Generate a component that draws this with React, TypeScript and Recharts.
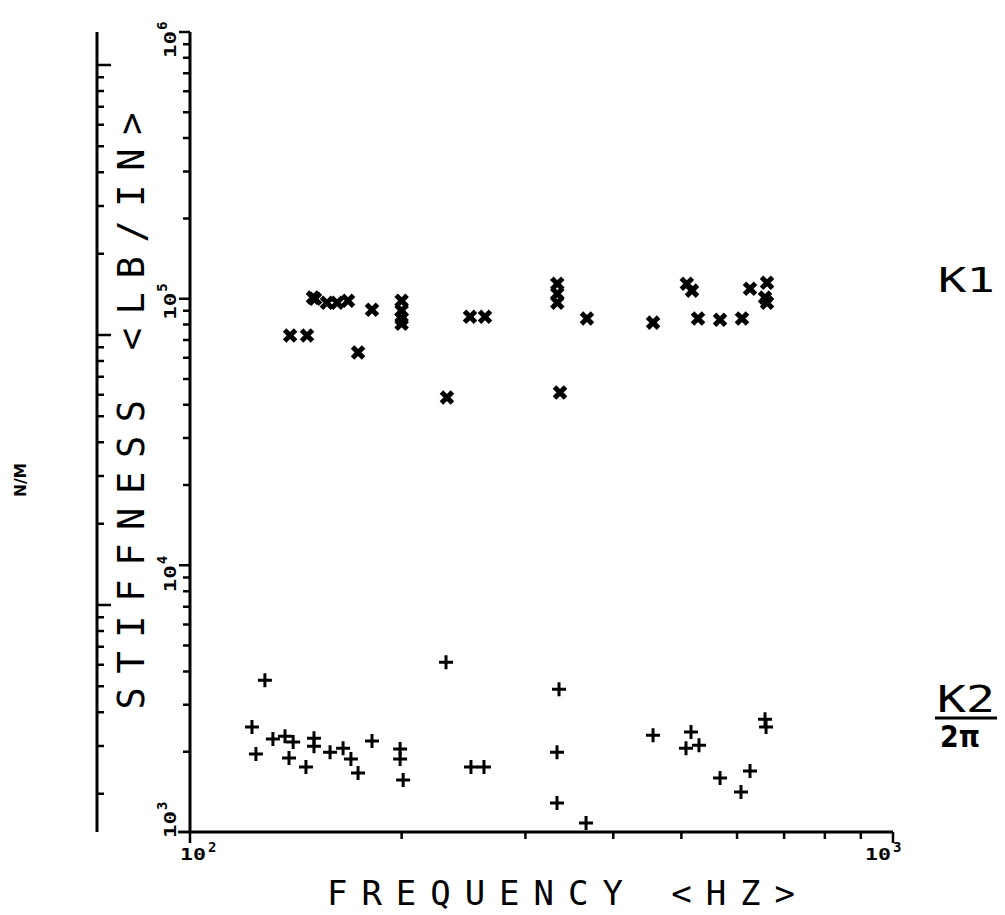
import { ScatterChart, Scatter, XAxis, YAxis, Label } from "recharts";

// frequency (Hz) and stiffness (lb/in)
const k1Freq = [138.8, 146.7, 149.6, 150.6, 156.6, 161.9, 167.8, 173.4, 181.5, 200, 200, 200, 200, 232, 250.2, 262.8, 333, 333, 333, 336, 367, 455.7, 509, 517.7, 528, 567.5, 609.8, 626, 662, 657.6, 662];
const k1Stiff = [72700, 72700, 100900, 100000, 96600, 96600, 98300, 62800, 90900, 98300, 90200, 84200, 80600, 42600, 85600, 85600, 113800, 104400, 96600, 44500, 84200, 81300, 113800, 107200, 84200, 83400, 84200, 109000, 114800, 100900, 96600];

const k2Freq = [122.5, 124.1, 127.8, 131.2, 136.5, 138.3, 140.2, 146.2, 150.1, 150.1, 158.2, 165.1, 169.4, 173.4, 181.5, 199, 199, 201, 231.3, 251, 261.9, 334.9, 332.7, 332.7, 365.9, 455.7, 516, 507.6, 529.7, 567.5, 626, 607.8, 657.6, 659.8];
const k2Stiff = [2474, 1959, 3710, 2230, 2288, 1893, 2173, 1752, 2249, 2099, 1993, 2063, 1877, 1663, 2192, 2046, 1877, 1566, 4331, 1752, 1752, 3433, 1993, 1284, 1081, 2308, 2369, 2063, 2117, 1593, 1692, 1412, 2650, 2474];

const freqTicks = [100, 200, 300, 400, 500, 600, 700, 800, 900, 1000];
const lbTicks = [
  1000, 2000, 3000, 4000, 5000, 6000, 7000, 8000, 9000,
  10000, 20000, 30000, 40000, 50000, 60000, 70000, 80000, 90000,
  100000, 200000, 300000, 400000, 500000, 600000, 700000, 800000, 900000,
  1000000,
];
const nmTicks = [
  200000, 300000, 400000, 500000, 600000, 700000, 800000, 900000,
  1000000, 2000000, 3000000, 4000000, 5000000, 6000000, 7000000, 8000000, 9000000,
  10000000, 20000000, 30000000, 40000000, 50000000, 60000000, 70000000, 80000000, 90000000,
  100000000,
];

const hzDomain = [100, 1000];
const lbDomain = [1000, 1000000];
const nmDomain = [144200, 132400000];

const hzExp: Record<number, string> = { 100: "2", 1000: "3" };
const lbExp: Record<number, string> = { 1000: "3", 10000: "4", 100000: "5", 1000000: "6" };
const nmExp: Record<number, string> = { 1000000: "6", 10000000: "7", 100000000: "8" };

const k1Data = k1Freq.map((f, i) => ({ f, k: k1Stiff[i] }));
const k2Data = k2Freq.map((f, i) => ({ f, k: k2Stiff[i] }));

const MONO = "'DejaVu Sans Mono', monospace";
const INK = "#000";

// fraction along a log axis
const logFrac = (v: number, d: number[]) =>
  (Math.log10(v) - Math.log10(d[0])) / (Math.log10(d[1]) - Math.log10(d[0]));

const FreqTick = (props: any) => {
  const { x, y, payload } = props;
  const exp = hzExp[payload.value];
  if (!exp) return null;
  const start = payload.value === 100 ? x - 10 : x - 28;
  return (
    <g fontFamily={MONO} fontWeight="bold" fill={INK}>
      <text x={start} y={y + 28} fontSize={15} textLength={26} lengthAdjust="spacingAndGlyphs">10</text>
      <text x={start + 28} y={y + 20} fontSize={14}>{exp}</text>
    </g>
  );
};

const lbShift: Record<string, number> = { "3": -7, "4": 14, "5": 8, "6": 13 };

const LbTick = (props: any) => {
  const { x, y, payload } = props;
  const exp = lbExp[payload.value];
  if (!exp) return null;
  return (
    <g transform={`translate(${x - 14},${y + lbShift[exp] + 13}) rotate(-90)`} fontFamily={MONO} fontWeight="bold" fill={INK}>
      <text x={0} y={0} fontSize={15} textLength={27} lengthAdjust="spacingAndGlyphs">10</text>
      <text x={28} y={-9} fontSize={14}>{exp}</text>
    </g>
  );
};

const NmTick = (props: any) => {
  const { x, y, payload } = props;
  const exp = nmExp[payload.value];
  if (!exp) return null;
  return (
    <g transform={`translate(${x - 14},${y + 10}) rotate(-90)`} fontFamily={MONO} fontWeight="bold" fill={INK}>
      <text x={0} y={0} fontSize={13} textLength={20} lengthAdjust="spacingAndGlyphs">10</text>
      <text x={21} y={-8} fontSize={14}>{exp}</text>
    </g>
  );
};

const CrossMark = (props: any) => {
  const { cx, cy } = props;
  const s = 5.5;
  return (
    <path
      d={`M${cx - s},${cy - s}L${cx + s},${cy + s}M${cx - s},${cy + s}L${cx + s},${cy - s}`}
      stroke={INK}
      strokeWidth={5}
      fill="none"
    />
  );
};

const PlusMark = (props: any) => {
  const { cx, cy } = props;
  const s = 7;
  return (
    <path d={`M${cx - s},${cy}L${cx + s},${cy}M${cx},${cy - s}L${cx},${cy + s}`} stroke={INK} strokeWidth={3} fill="none" />
  );
};

// x axis: tick marks + title, placed from the axis viewBox
const FreqAxisDecor = (props: any) => {
  const vb = props.viewBox;
  const d = freqTicks
    .map((f) => {
      const px = vb.x + vb.width * logFrac(f, hzDomain);
      return `M${px},${vb.y}L${px},${vb.y + (hzExp[f] ? 11 : 7)}`;
    })
    .join("");
  return (
    <g>
      <path d={`${d}M${vb.x - 12},${vb.y}L${vb.x},${vb.y}`} stroke={INK} strokeWidth={2.5} fill="none" />
      <text x={327} y={905} fontFamily={MONO} fontSize={34} fill={INK} textLength={468} lengthAdjust="spacing">
        {"FREQUENCY <HZ>"}
      </text>
    </g>
  );
};

// inner (lb/in) axis: tick marks pointing left + title
const LbAxisDecor = (props: any) => {
  const vb = props.viewBox;
  const ax = vb.x + vb.width;
  const d = lbTicks
    .map((k) => {
      const py = vb.y + vb.height * (1 - logFrac(k, lbDomain));
      return `M${ax - (lbExp[k] ? 11 : 7)},${py}L${ax},${py}`;
    })
    .join("");
  const cy = vb.y + vb.height / 2 - 21;
  return (
    <g>
      <path d={d} stroke={INK} strokeWidth={2.5} fill="none" />
      <text
        transform={`translate(${vb.x + 34},${cy}) rotate(-90)`}
        textAnchor="middle"
        dominantBaseline="central"
        fontFamily={MONO}
        fontSize={37}
        fill={INK}
        textLength={597}
        lengthAdjust="spacing"
      >
        {"STIFFNESS <LB/IN>"}
      </text>
    </g>
  );
};

// outer (N/M) axis: tick marks pointing right + unit
const NmAxisDecor = (props: any) => {
  const vb = props.viewBox;
  const ax = vb.x + vb.width;
  const d = nmTicks
    .map((k) => {
      const py = vb.y + vb.height * (1 - logFrac(k, nmDomain));
      return `M${ax},${py}L${ax + (nmExp[k] ? 14 : 7)},${py}`;
    })
    .join("");
  return (
    <g>
      <path d={d} stroke={INK} strokeWidth={2.5} fill="none" />
      <text
        transform={`translate(${vb.x + 14},${480}) rotate(-90)`}
        textAnchor="middle"
        dominantBaseline="central"
        fontFamily="'DejaVu Sans', sans-serif"
        fontWeight="bold"
        fontSize={15}
        fill={INK}
        textLength={34}
        lengthAdjust="spacingAndGlyphs"
      >
        N/M
      </text>
    </g>
  );
};

export default function App() {
  return (
    <div style={{ width: 1000, height: 912, background: "#fff" }}>
      <style>{"body{margin:0;background:#fff}"}</style>
      <ScatterChart width={1000} height={912} margin={{ top: 32, right: 107, bottom: 20, left: 7 }}>
        <XAxis
          dataKey="f"
          type="number"
          scale="log"
          domain={hzDomain}
          ticks={freqTicks}
          interval={0}
          tick={<FreqTick />}
          tickLine={false}
          tickSize={0}
          tickMargin={0}
          height={60}
          axisLine={{ stroke: INK, strokeWidth: 3 }}
        >
          <Label content={<FreqAxisDecor />} />
        </XAxis>
        <YAxis
          yAxisId="lb"
          dataKey="k"
          type="number"
          scale="log"
          domain={lbDomain}
          ticks={lbTicks}
          interval={0}
          tick={<LbTick />}
          tickLine={false}
          tickSize={0}
          tickMargin={0}
          width={93}
          axisLine={{ stroke: INK, strokeWidth: 3 }}
        >
          <Label content={<LbAxisDecor />} />
        </YAxis>
        <YAxis
          yAxisId="nm"
          type="number"
          scale="log"
          domain={nmDomain}
          ticks={nmTicks}
          interval={0}
          tick={<NmTick />}
          tickLine={false}
          tickSize={0}
          tickMargin={0}
          width={90}
          axisLine={{ stroke: INK, strokeWidth: 3 }}
        >
          <Label content={<NmAxisDecor />} />
        </YAxis>
        <Scatter name="K1" data={k1Data} yAxisId="lb" shape={<CrossMark />} isAnimationActive={false} />
        <Scatter name="K2" data={k2Data} yAxisId="lb" shape={<PlusMark />} isAnimationActive={false} />
        <g fontFamily={MONO} fill={INK}>
          <text x={938} y={292} fontSize={34} textLength={57} lengthAdjust="spacingAndGlyphs">K1</text>
          <text x={937} y={712} fontSize={38} textLength={58} lengthAdjust="spacingAndGlyphs">K2</text>
          <line x1={935} y1={718} x2={997} y2={718} stroke={INK} strokeWidth={3} />
          <text x={940} y={747} fontSize={30} fontWeight="bold" fontFamily="'DejaVu Sans', sans-serif" textLength={40} lengthAdjust="spacingAndGlyphs">2π</text>
        </g>
      </ScatterChart>
    </div>
  );
}
